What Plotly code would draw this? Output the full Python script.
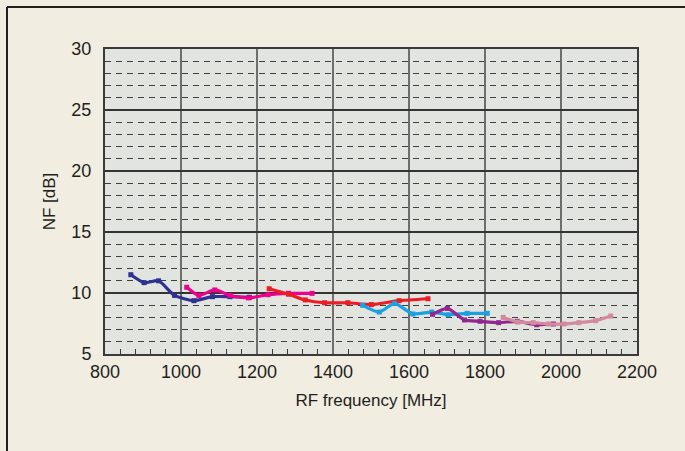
import plotly.graph_objects as go

# RF frequency [MHz] / NF [dB] for each measured band
band1_freq = [868, 903, 941, 983, 1034, 1083, 1129, 1180]
band1_nf = [11.5, 10.85, 11.0, 9.8, 9.37, 9.7, 9.7, 9.65]

band2_freq = [1015, 1047, 1089, 1129, 1178, 1229, 1283, 1345]
band2_nf = [10.47, 9.8, 10.25, 9.8, 9.6, 9.86, 9.97, 9.97]

band3_freq = [1232, 1283, 1327, 1378, 1439, 1501, 1574, 1650]
band3_nf = [10.35, 9.9, 9.43, 9.2, 9.2, 9.05, 9.37, 9.53]

band4_freq = [1478, 1522, 1562, 1610, 1660, 1703, 1753, 1806]
band4_nf = [8.99, 8.44, 9.15, 8.28, 8.44, 8.22, 8.33, 8.33]

band5_freq = [1662, 1701, 1746, 1787, 1836, 1885, 1936, 1980]
band5_nf = [8.25, 8.74, 7.79, 7.68, 7.57, 7.68, 7.4, 7.46]

band6_freq = [1848, 1887, 1927, 1968, 2008, 2047, 2091, 2131]
band6_nf = [8.0, 7.62, 7.57, 7.46, 7.46, 7.57, 7.73, 8.11]

series = [
    (band1_freq, band1_nf, '#2e3192'),
    (band2_freq, band2_nf, '#ec008c'),
    (band3_freq, band3_nf, '#ed1c24'),
    (band4_freq, band4_nf, '#1ba1e2'),
    (band5_freq, band5_nf, '#92278f'),
    (band6_freq, band6_nf, '#d4899e'),
]

text_color = '#231f20'
font_family = 'Liberation Sans, Arial, sans-serif'

fig = go.Figure()

for freq, nf, color in series:
    fig.add_trace(go.Scatter(
        x=freq,
        y=nf,
        mode='lines+markers',
        line=dict(color=color, width=3.2, shape='spline', smoothing=0.6),
        marker=dict(symbol='square', size=5, color=color),
        showlegend=False,
    ))

# Outer frame of the figure (left and top edges)
fig.add_shape(type='line', xref='paper', yref='paper',
              x0=-0.1842, x1=-0.1842, y0=-0.4, y1=1.1377,
              line=dict(color=text_color, width=2))
fig.add_shape(type='line', xref='paper', yref='paper',
              x0=-0.1842, x1=1.2, y0=1.1377, y1=1.1377,
              line=dict(color=text_color, width=2))

fig.update_layout(
    width=685,
    height=451,
    margin=dict(l=105, r=48, t=49, b=97),
    paper_bgcolor='#f2ede1',
    plot_bgcolor='#e1e4df',
    font=dict(family=font_family, color=text_color, size=18),
    xaxis=dict(
        range=[800, 2200],
        tick0=800,
        dtick=200,
        showgrid=True,
        gridcolor='#6e6e6e',
        gridwidth=1.5,
        showline=True,
        mirror=True,
        linecolor='#3a3a3a',
        linewidth=2,
        ticks='',
        zeroline=False,
        minor=dict(dtick=40, ticks='inside', ticklen=5, tickcolor='#3a3a3a',
                   tickwidth=1, showgrid=False),
        title=dict(text='RF frequency [MHz]', font=dict(size=17), standoff=14),
    ),
    yaxis=dict(
        range=[5, 30],
        tick0=5,
        dtick=5,
        showgrid=True,
        gridcolor='#333333',
        gridwidth=1.5,
        showline=True,
        mirror=True,
        linecolor='#3a3a3a',
        linewidth=2,
        ticks='',
        ticklabelstandoff=8,
        zeroline=False,
        minor=dict(dtick=1, showgrid=True, gridcolor='#3f3f3f', gridwidth=1,
                   griddash='6px,5px'),
        title=dict(text='NF [dB]', font=dict(size=17), standoff=11),
    ),
)

fig.write_html('out.html', config={'displayModeBar': False},
               post_script="document.body.style.margin='0';document.body.style.background='#f2ede1';")
